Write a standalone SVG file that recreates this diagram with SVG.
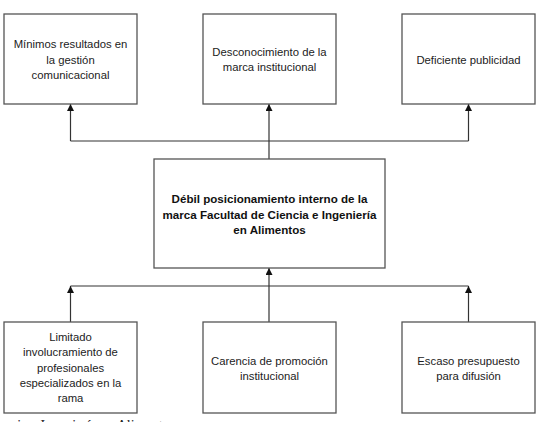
<svg xmlns="http://www.w3.org/2000/svg" width="537" height="422" viewBox="0 0 537 422">
  <defs>
    <style>
      .box { fill: #ffffff; stroke: #555555; stroke-width: 1.3; }
      .lbl { font-family: "Liberation Sans", Arial, sans-serif; font-size: 11.3px; fill: #222222; text-anchor: middle; }
      .main { font-family: "Liberation Sans", Arial, sans-serif; font-size: 11.6px; font-weight: bold; fill: #111111; text-anchor: middle; }
      .wire { fill: none; stroke: #333333; stroke-width: 1.2; }
      .note { font-family: "Liberation Serif", "Times New Roman", serif; font-size: 14px; fill: #222222; }
    </style>
    <marker id="head" viewBox="0 0 10 10" refX="10" refY="5" markerWidth="7" markerHeight="7" markerUnits="userSpaceOnUse" orient="auto">
      <path d="M0,0 L10,5 L0,10 z" fill="#111111"/>
    </marker>
  </defs>
  <rect width="537" height="422" fill="#ffffff"/>

  <!-- connectors -->
  <g id="connectors">
    <path class="wire" d="M269,159 V141"/>
    <path class="wire" d="M70.5,141 H468.5"/>
    <path class="wire" d="M70.5,141 V104" marker-end="url(#head)"/>
    <path class="wire" d="M269,141 V104" marker-end="url(#head)"/>
    <path class="wire" d="M468.5,141 V104" marker-end="url(#head)"/>
    <path class="wire" d="M70.5,286 H468.5"/>
    <path class="wire" d="M70.5,322 V286" marker-end="url(#head)"/>
    <path class="wire" d="M269,322 V268" marker-end="url(#head)"/>
    <path class="wire" d="M468.5,322 V286" marker-end="url(#head)"/>
  </g>

  <!-- effects (top row) -->
  <g id="efecto-1">
    <rect class="box" x="4" y="14" width="133" height="90"/>
    <text class="lbl" x="70.5" y="48">Mínimos resultados en</text>
    <text class="lbl" x="70.5" y="64">la gestión</text>
    <text class="lbl" x="70.5" y="79">comunicacional</text>
  </g>
  <g id="efecto-2">
    <rect class="box" x="203" y="14" width="133" height="90"/>
    <text class="lbl" x="269.5" y="56">Desconocimiento de la</text>
    <text class="lbl" x="269.5" y="71">marca institucional</text>
  </g>
  <g id="efecto-3">
    <rect class="box" x="402" y="14" width="133" height="90"/>
    <text class="lbl" x="468.5" y="64">Deficiente publicidad</text>
  </g>

  <!-- central problem -->
  <g id="problema">
    <rect class="box" x="154" y="159" width="231" height="109"/>
    <text class="main" x="269.5" y="203">Débil posicionamiento interno de la</text>
    <text class="main" x="269.5" y="219">marca Facultad de Ciencia e Ingeniería</text>
    <text class="main" x="269.5" y="234">en Alimentos</text>
  </g>

  <!-- causes (bottom row) -->
  <g id="causa-1">
    <rect class="box" x="4" y="322" width="133" height="91"/>
    <text class="lbl" x="70.5" y="341">Limitado</text>
    <text class="lbl" x="70.5" y="356">involucramiento de</text>
    <text class="lbl" x="70.5" y="372">profesionales</text>
    <text class="lbl" x="70.5" y="387">especializados en la</text>
    <text class="lbl" x="70.5" y="402">rama</text>
  </g>
  <g id="causa-2">
    <rect class="box" x="203" y="322" width="133" height="91"/>
    <text class="lbl" x="269.5" y="365">Carencia de promoción</text>
    <text class="lbl" x="269.5" y="380">institucional</text>
  </g>
  <g id="causa-3">
    <rect class="box" x="402" y="322" width="133" height="91"/>
    <text class="lbl" x="468.5" y="365">Escaso presupuesto</text>
    <text class="lbl" x="468.5" y="380">para difusión</text>
  </g>

  <!-- caption line, cut by the lower edge -->
  <text class="note" x="175" y="430" text-anchor="end">Ciencia e Ingeniería en Alimentos</text>
</svg>
